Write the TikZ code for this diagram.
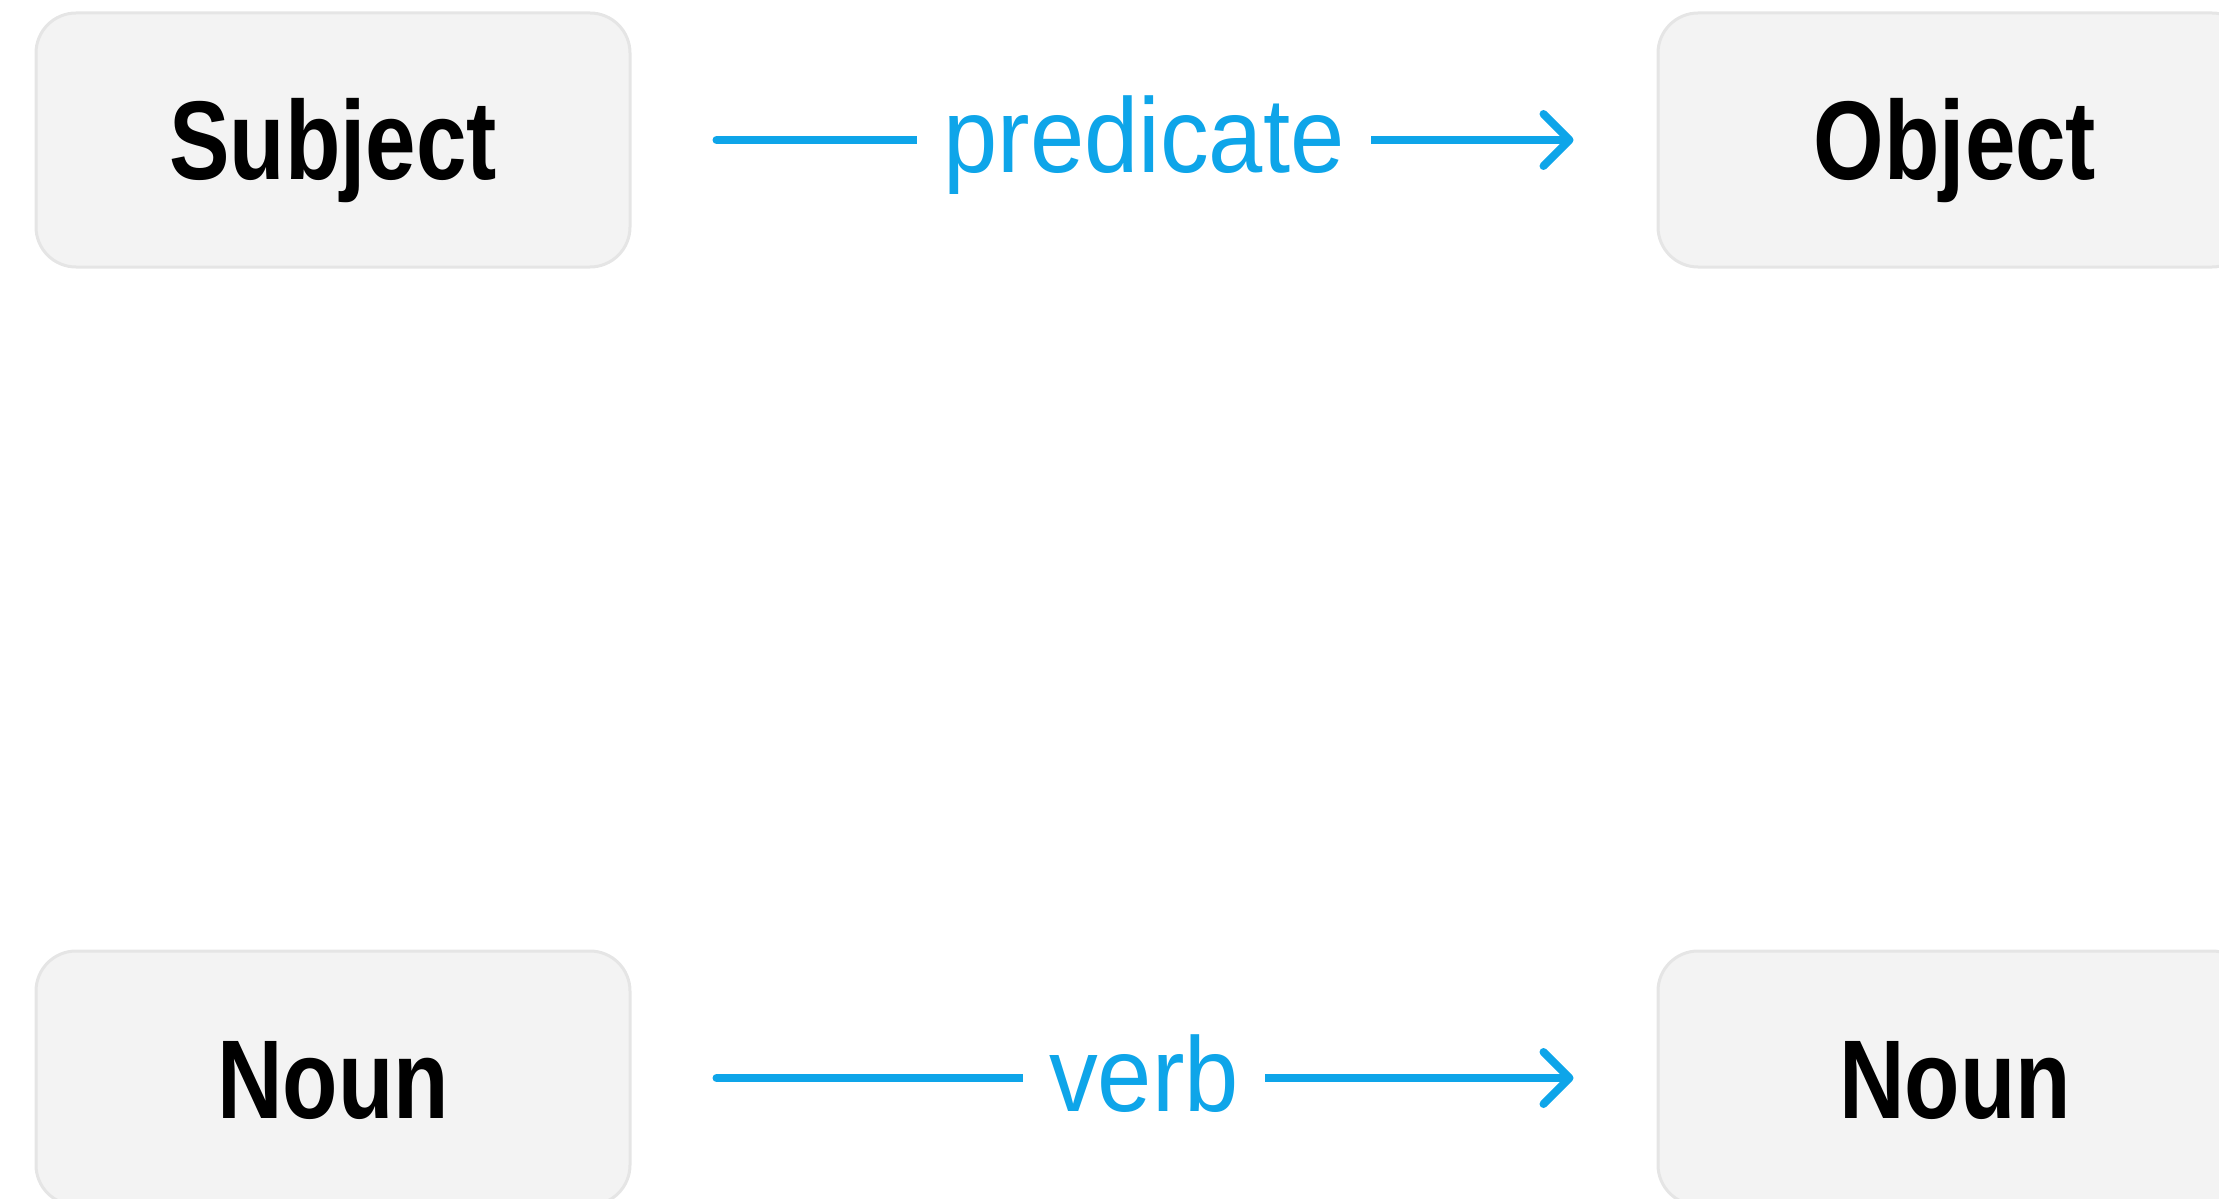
\documentclass[tikz,border=0pt]{standalone}
\usepackage{fontspec}
\setmainfont{Liberation Sans}
\newfontfamily\boxfont[FakeStretch=0.81]{Liberation Sans}
\newfontfamily\relfont[FakeStretch=0.92]{Liberation Sans}
\usetikzlibrary{arrows.meta}
\definecolor{relblue}{RGB}{14,165,233}
\definecolor{boxfill}{RGB}{243,243,243}
\definecolor{boxline}{RGB}{229,229,229}
\tikzset{
  termbox/.style={draw=boxline, line width=1.5pt, fill=boxfill,
    rounded corners=20pt, minimum width=297pt, minimum height=127pt,
    inner sep=0pt, text height=40pt, text depth=0pt,
    font=\boxfont\bfseries\fontsize{56pt}{60pt}\selectfont},
  relation/.style={draw=relblue, line width=4pt, line cap=round,
    -{Straight Barb[length=13pt,width=26pt,round]},
    shorten <=42.5pt, shorten >=41.5pt},
  rellabel/.style={fill=white, text=relblue, anchor=base, yshift=-16.5pt,
    inner xsep=13pt, inner ysep=4pt,
    font=\relfont\fontsize{53pt}{58pt}\selectfont},
}
\begin{document}
\begin{tikzpicture}[x=0.5pt, y=-0.5pt]
  \useasboundingbox (0,0) rectangle (2219,1198);
  \clip (0,0) rectangle (2219,1198);
  % sentence pattern
  \node[termbox] (subj) at (333,140) {Subject};
  \node[termbox] (obj)  at (1955,140) {Object};
  \draw[relation] (subj) -- node[rellabel] (pred) {predicate} (obj);
  % word classes
  \node[termbox] (noun1) at (333,1078) {Noun};
  \node[termbox] (noun2) at (1955,1078) {Noun};
  \draw[relation] (noun1) -- node[rellabel] (verb) {verb} (noun2);
\end{tikzpicture}
\end{document}
